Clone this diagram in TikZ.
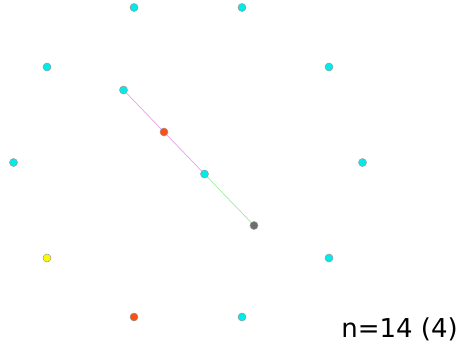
\documentclass[tikz,border=0pt]{standalone}
\usepackage{fontspec}
\setmainfont{DejaVu Sans}
\definecolor{dcyan}{RGB}{0,235,235}
\definecolor{dorange}{RGB}{250,80,20}
\definecolor{dyellow}{RGB}{250,250,0}
\definecolor{dgray}{RGB}{110,110,110}
\definecolor{lpink}{RGB}{235,160,235}
\definecolor{lgreen}{RGB}{160,235,160}
\begin{document}
\begin{tikzpicture}[x=1pt,y=-1pt,
  dot/.style={circle,draw=gray!80,line width=0.5pt,inner sep=0pt,minimum size=8pt},
  cy/.style={dot,fill=dcyan},
  og/.style={dot,fill=dorange},
  yl/.style={dot,fill=dyellow},
  gr/.style={dot,fill=dgray},
  lbl/.style={font=\fontsize{26}{28}\selectfont,inner sep=0pt,anchor=base east}]
\useasboundingbox (0,0) rectangle (458,348);
\fill[white] (0,0) rectangle (458,348);
\coordinate (p1) at (123.5,90);
\coordinate (p2) at (164,132);
\coordinate (p3) at (204.5,174);
\coordinate (p4) at (254,225.5);
\draw[lpink,line width=0.7pt] (p1) -- (p3);
\draw[lgreen,line width=0.7pt] (p3) -- (p4);
\node[cy] (a1) at (134,7.5) {};
\node[cy] (a2) at (242,7.5) {};
\node[cy] (a3) at (47,67) {};
\node[cy] (a4) at (329,67) {};
\node[cy] (b1) at (p1) {};
\node[og] (b2) at (p2) {};
\node[cy] (a5) at (13.5,162.5) {};
\node[cy] (a6) at (362.5,162.5) {};
\node[cy] (b3) at (p3) {};
\node[gr] (b4) at (p4) {};
\node[yl] (a7) at (47,258) {};
\node[cy] (a8) at (329,258) {};
\node[og] (a9) at (134,317) {};
\node[cy] (a10) at (242,317) {};
\node[lbl] (t) at (458,337) {n=14 (4)};
\end{tikzpicture}
\end{document}
